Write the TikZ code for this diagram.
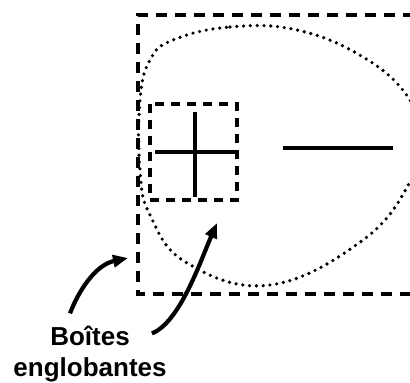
\documentclass[tikz,border=0pt]{standalone}
\usepackage{fontspec}
\setmainfont{Liberation Sans}
\usetikzlibrary{arrows.meta}

\tikzset{
  bbox/.style={line width=4.6pt, dash pattern=on 11pt off 8pt},
  contour/.style={line width=3.6pt, line cap=round, dash pattern=on 0pt off 6.8pt},
  trait/.style={line width=4.6pt},
  pointer/.style={line width=4.2pt, -{Triangle[length=15pt,width=12pt]}},
  legend/.style={font=\bfseries\fontsize{26}{30}\selectfont, inner sep=0pt, anchor=base},
}

\begin{document}
\begin{tikzpicture}[x=1pt,y=-1pt]
  \useasboundingbox (0,0) rectangle (410,383);
  % boite englobante du dessin
  \draw[bbox] (414,15) -- (138,15) -- (138,294) -- (414,294);
  % contour en pointilles
  \draw[contour] plot[smooth cycle, tension=0.7] coordinates {(173,40) (230,27) (297,30) (363,57) (408,97) (420,140) (410,182) (363,240) (270,285) (187,263) (150,215) (140,170) (140,100) (150,60)};
  % boite englobante de la croix
  \draw[bbox, dash pattern=on 9pt off 7pt] (150,104) rectangle (237,200);
  \draw[trait] (155,152) -- (237,152);
  \draw[trait] (195,112) -- (195,197);
  % segment
  \draw[trait] (283,148) -- (393,148);
  % legende
  \node[legend] (boites) at (90,345) {Boîtes};
  \node[legend] (englobantes) at (90,376) {englobantes};
  \coordinate (grande) at (128,258);
  \coordinate (petite) at (217,223);
  \draw[pointer] ([xshift=-20pt,yshift=12pt]boites.north) .. controls (78,292) and (95,265) .. (grande);
  \draw[pointer] ([xshift=22pt,yshift=2pt]boites.east) .. controls (180,322) and (200,262) .. (petite);
\end{tikzpicture}
\end{document}
